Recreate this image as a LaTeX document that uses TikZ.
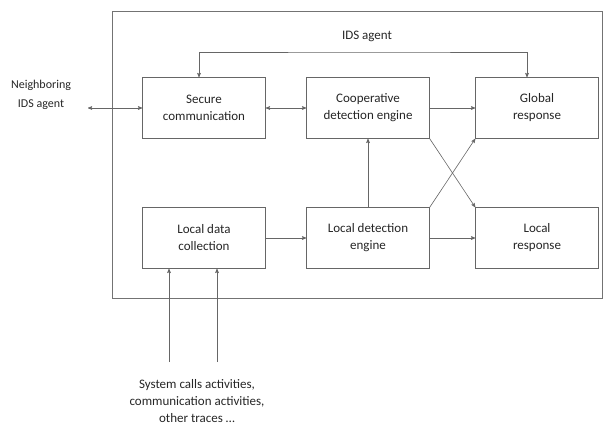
\documentclass[tikz,border=0pt]{standalone}
\usepackage{fontspec}
\setmainfont{Carlito}
\usetikzlibrary{arrows}

\begin{document}
\begin{tikzpicture}[->,>=stealth',x=1pt,y=-1pt,semithick,
                    draw=black!60,text=black!85,
                    font=\fontsize{13}{17}\selectfont]
\tikzstyle{every node}=[align=center]
\tikzstyle{block}=[draw=black!60,fill=white,minimum width=123pt,minimum height=61pt,inner sep=2pt]
\useasboundingbox (0,0) rectangle (604,433);
\draw[-,black!55] (112,11) rectangle (602,298);
\node (ids) at (367,36) {IDS agent};
\node[block] (sec) at (204,108) {Secure\\communication};
\node[block] (coop) at (368,108) {Cooperative\\detection engine};
\node[block] (glob) at (537,108) {Global\\response};
\node[block] (ldc) at (204,238) {Local data\\collection};
\node[block] (lde) at (368,238) {Local detection\\engine};
\node[block] (lres) at (537,238) {Local\\response};
\node[font=\fontsize{12}{19}\selectfont] (nbr) at (41,95) {Neighboring\\IDS agent};
\node (trc) at (197,401) {System calls activities,\\communication activities,\\other traces \dots};
\coordinate (nb) at (88,108);
\coordinate (fb) at (375,52);
\coordinate (in1) at (169,362);
\coordinate (in2) at (217,362);
\path (sec) edge [<->] (coop)
      (coop) edge (glob)
      (coop.south east) edge (lres.north west)
      (ldc) edge (lde)
      (lde) edge (coop)
            edge (lres)
      (lde.north east) edge (glob.south west)
      (nb) edge [<->] (sec);
\draw[<->] ([xshift=-5]sec.north) |- (fb) -| ([xshift=-10]glob.north);
\draw (in1) -- (in1 |- ldc.south);
\draw (in2) -- (in2 |- ldc.south);
\end{tikzpicture}
\end{document}
